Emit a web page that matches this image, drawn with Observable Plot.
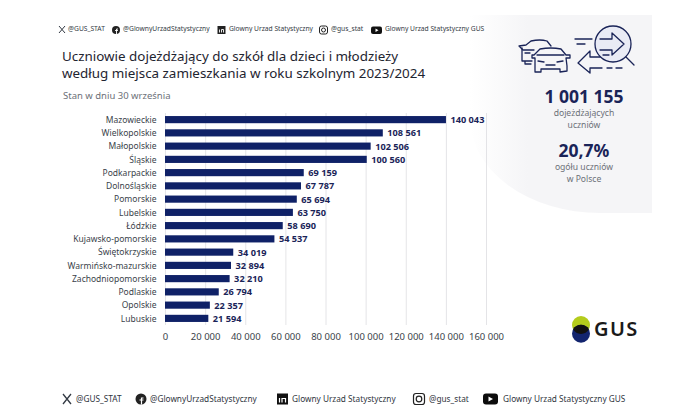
<!DOCTYPE html>
<html lang="pl">
<head>
<meta charset="utf-8">
<script src="https://cdn.jsdelivr.net/npm/d3@7"></script>
<script src="https://cdn.jsdelivr.net/npm/@observablehq/plot@0.6"></script>
<style>
html,body{margin:0;padding:0;background:#fff;}
#page{position:relative;width:683px;height:419px;overflow:hidden;font-family:"Noto Sans",sans-serif;}
#panel{position:absolute;left:470px;top:15px;width:182px;height:198px;border-bottom-left-radius:130px 95px;
 background:linear-gradient(90deg,#ffffff 0%,#f5f5f7 32%,#f5f5f7 100%);}
#chart{position:absolute;left:0;top:0;}
#chart svg{background:transparent!important;}
.t{position:absolute;white-space:nowrap;line-height:1;}
.social{font-size:6.7px;color:#333a44;}
.social2{font-size:8.25px;color:#2f3540;}
.big{font-weight:700;color:#1a2458;text-align:center;width:160px;left:504px;}
.small{font-size:8.6px;color:#6c7078;text-align:center;width:90px;left:539px;line-height:11.5px;white-space:pre-line;}
#deco{position:absolute;left:0;top:0;}
</style>
</head>
<body>
<div id="page">
  <div id="panel"></div>
  <svg id="deco" width="683" height="419" fill="none">
    <!-- cars -->
    <g stroke="#1a2458" stroke-width="1.3" stroke-linejoin="round" stroke-linecap="round">
      <path d="M534 50 L523 50 L519 46 L526 45 L531 41 Q540 39 547 41 L551 46"/>
      <path d="M522 48 L522 61 L532 61 M525 53 L530 53 M525 61 L525 64 L531 64"/>
      <path d="M534 55 L540 49 Q551 47 561 49 L566 55 L570 55 L570 58 L566 58 L567 66 L567 71 L560 72 L560 69 L541 69 L541 72 L535 72 L535 60 L535 58 L532 58 L532 55 Z" fill="#f5f5f7"/>
      <path d="M538 61 L544 62 M563 61 L557 62 M546 65 L555 65 M537 55 L564 55"/>
      <!-- magnifier -->
      <circle cx="613" cy="44" r="18" fill="#e9ebf5"/>
      <path d="M626 57 L634 65"/>
      <path d="M600 39 L612 39 L612 33 L624 44 L612 55 L612 50 L600 50 M575 39 L592 39 M577 44 L585 44 M603 55 L609 55"/>
      <path d="M590 51 L578 63 L590 73 L590 68 L602 68 M607 68 L612 68 M616 68 L622 68 M590 51 L590 57 L600 57"/>
    </g>
    <!-- header icons -->
    <g stroke="#333a44" stroke-width="1"><path d="M59 26 L65 33 M65 26 L59 33"/></g>
    <circle cx="116" cy="30" r="4" fill="#222"/>
    <path d="M116.500 34 L116.500 29 L118 29 M115 30.500 L118 30.500" stroke="#fff" stroke-width="0.900"/>
    <rect x="217.500" y="26" width="8" height="8" fill="#222"/>
    <path d="M219.500 29.500 L219.500 32.500 M221.500 32.500 L221.500 29.500 L223.500 29.500 L223.500 32.500" stroke="#fff" stroke-width="0.900"/>
    <rect x="319.500" y="26" width="8" height="8" rx="2" stroke="#222"/>
    <circle cx="323.500" cy="30" r="2" stroke="#222"/>
    <rect x="371" y="26.500" width="11" height="7.500" rx="2" fill="#111"/>
    <path d="M375.500 28.500 L378.500 30.200 L375.500 32 Z" fill="#fff"/>
    <!-- footer icons -->
    <g stroke="#333a44" stroke-width="1.300"><path d="M63 394 L71 404 M71 394 L63 404"/></g>
    <circle cx="141" cy="399" r="5.500" fill="#222"/>
    <path d="M141.500 404.500 L141.500 398 L143.500 398 M139.500 400 L143.500 400" stroke="#fff" stroke-width="1.200"/>
    <rect x="277" y="393.500" width="11" height="11" fill="#111"/>
    <path d="M279.500 398 L279.500 402.500 M282 402.500 L282 398.500 L285.500 398.500 L285.500 402.500" stroke="#fff" stroke-width="1.200"/>
    <rect x="413.500" y="393.500" width="11" height="11" rx="2.500" stroke="#222" stroke-width="1.200"/>
    <circle cx="419" cy="399" r="2.800" stroke="#222" stroke-width="1.200"/>
    <rect x="483" y="393.500" width="15" height="11" rx="3" fill="#0c0c0c"/>
    <path d="M488.500 396.500 L493 399 L488.500 401.500 Z" fill="#fff"/>
    <!-- logo -->
    <circle cx="581" cy="325" r="9" fill="#b4cc1c"/>
    <circle cx="581" cy="333.700" r="9" fill="#12246e"/>
    <path d="M573.120 329.350 A9 9 0 0 1 588.880 329.350 A9 9 0 0 1 573.120 329.350 Z" fill="#111"/>
  </svg>
  <div id="chart"></div>
  <div id="labels"></div>
</div>
<script>
const regions = ["Mazowieckie","Wielkopolskie","Małopolskie","Śląskie","Podkarpackie","Dolnośląskie","Pomorskie","Lubelskie","Łódzkie","Kujawsko-pomorskie","Świętokrzyskie","Warmińsko-mazurskie","Zachodniopomorskie","Podlaskie","Opolskie","Lubuskie"];
const students = [140043,108561,102506,100560,69159,67787,65694,63750,58690,54537,34019,32894,32210,26794,22357,21594];
const xTicks = [0,20000,40000,60000,80000,100000,120000,140000,160000];
const titleText = "Uczniowie dojeżdżający do szkół dla dzieci i młodzieży\nwedług miejsca zamieszkania w roku szkolnym 2023/2024";
const subtitle = "Stan w dniu 30 września";
const socialsTop = [["@GUS_STAT",68],["@GlownyUrzadStatystyczny",123],["Glowny Urzad Statystyczny",229],["@gus_stat",331],["Glowny Urzad Statystyczny GUS",385]];
const socialsBottom = [["@GUS_STAT",76],["@GlownyUrzadStatystyczny",150],["Glowny Urzad Statystyczny",292],["@gus_stat",429],["Glowny Urzad Statystyczny GUS",503]];

const fmt = d => d3.format(",")(d).replace(/,/g," ");
const table = regions.map((region,i)=>({region,value:students[i]}));

const plot = Plot.plot({
  width:683, height:419,
  marginLeft:165, marginRight:197, marginTop:113, marginBottom:94,
  style:{background:"transparent",fontFamily:'"Noto Sans",sans-serif',fontSize:"9px",color:"#3a3f4a"},
  x:{domain:[0,160000],label:null,ticks:xTicks},
  y:{domain:regions,label:null,paddingInner:0.46,paddingOuter:0.23,round:false},
  marks:[
    Plot.gridX(xTicks,{stroke:"#d9d9dd",strokeOpacity:0.7}),
    Plot.barX(table,{x:"value",y:"region",fill:"#0f2167"}),
    Plot.text(table,{x:"value",y:"region",text:d=>fmt(d.value),dx:4,textAnchor:"start",fill:"#1a2458",fontWeight:700,fontSize:9.2}),
    Plot.axisX(xTicks,{anchor:"bottom",tickSize:0,tickPadding:8,tickFormat:fmt,fontSize:9.5,fill:"#3a3f4a",label:null}),
    Plot.axisY({anchor:"left",tickSize:0,tickPadding:9,fontSize:8.5,fill:"#3a3f4a",label:null})
  ]
});
document.getElementById("chart").append(plot);

const host = document.getElementById("labels");
function put(text,cls,left,top,extra){
  const d=document.createElement("div");
  d.className="t "+cls; d.textContent=text;
  if(left!==null) d.style.left=left+"px";
  d.style.top=top+"px";
  if(extra) d.style.cssText+=extra;
  host.append(d);
}
socialsTop.forEach(([s,x])=>put(s,"social",x,25.5));
socialsBottom.forEach(([s,x])=>put(s,"social2",x,394.5));
put(titleText,"",62,48,"font-size:13.4px;line-height:17px;white-space:pre-line;color:#1e2430;");
put(subtitle,"",63,91,"font-size:9.5px;color:#6c7078;");
put("1 001 155","big",null,88,"font-size:17.5px;");
put("dojeżdżających\nuczniów","small",null,108);
put("20,7%","big",null,142,"font-size:17.5px;");
put("ogółu uczniów\nw Polsce","small",null,162);
put("GUS","",594,319,"font-size:20px;font-weight:600;letter-spacing:1.4px;color:#1a1a1a;");
</script>
</body>
</html>
